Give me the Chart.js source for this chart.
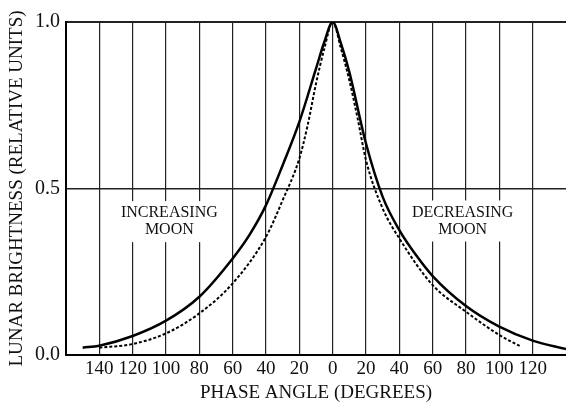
<!DOCTYPE html>
<html>
<head>
<meta charset="utf-8">
<title>Lunar brightness vs phase angle</title>
<script src="https://cdn.jsdelivr.net/npm/chart.js@4.4.1/dist/chart.umd.min.js"></script>
<style>
	html, body { margin: 0; padding: 0; background: #fff; }
	#wrap { width: 566px; height: 406px; }
</style>
</head>
<body>
<div id="wrap"><canvas id="lunar-chart"></canvas></div>
<script>
// Phase angle in degrees: negative side = increasing moon, positive = decreasing moon
var solidAngles = [-150, -140, -120, -100, -80, -60, -50, -40, -30, -20, -10, -5, 0, 5, 10, 20, 30, 40, 50, 60, 80, 100, 120, 140];
var solidBrightness = [0.022, 0.028, 0.057, 0.103, 0.175, 0.29, 0.36, 0.45, 0.57, 0.70, 0.86, 0.94, 1.0, 0.935, 0.85, 0.635, 0.475, 0.375, 0.30, 0.237, 0.147, 0.085, 0.043, 0.018];

var dottedAngles = [-140, -120, -100, -80, -60, -40, -30, -20, -15, -10, -5, 0, 5, 10, 15, 20, 30, 40, 60, 80, 100, 113];
var dottedBrightness = [0.022, 0.033, 0.065, 0.125, 0.215, 0.355, 0.465, 0.59, 0.69, 0.815, 0.92, 1.0, 0.92, 0.825, 0.71, 0.585, 0.44, 0.35, 0.21, 0.13, 0.06, 0.025];

var angleTicks = [-140, -120, -100, -80, -60, -40, -20, 0, 20, 40, 60, 80, 100, 120];
var brightnessTicks = [0, 0.5, 1];

// Boxed notes: position of the first text line (angle, brightness)
var noteAngles = [-98, 78];
var noteLevels = [0.426, 0.428];
var noteLines = [['INCREASING', 'MOON'], ['DECREASING', 'MOON']];

var SERIF = '"Liberation Serif", "Times New Roman", serif';

function toPoints(xs, ys) {
	return xs.map(function(x, i) { return { x: x, y: ys[i] }; });
}

// White boxed labels drawn over the grid
var notesPlugin = {
	id: 'moonNotes',
	beforeDatasetsDraw: function(chart) {
		var ctx = chart.ctx;
		var xs = chart.scales.x, ys = chart.scales.y;
		var lineGap = 17;
		ctx.save();
		ctx.font = '16px ' + SERIF;
		ctx.textAlign = 'center';
		ctx.textBaseline = 'middle';
		noteLines.forEach(function(lines, i) {
			var cx = xs.getPixelForValue(noteAngles[i]);
			var cy = ys.getPixelForValue(noteLevels[i]);
			var w = 0;
			lines.forEach(function(t) { w = Math.max(w, ctx.measureText(t).width); });
			var top = cy - 12;
			var h = lineGap * (lines.length - 1) + 24;
			ctx.fillStyle = '#fff';
			ctx.fillRect(cx - w / 2 - 4, top, w + 8, h);
			ctx.fillStyle = '#111';
			lines.forEach(function(t, j) {
				ctx.fillText(t, cx, cy + j * lineGap);
			});
		});
		ctx.restore();
	}
};

var chartCtx = document.getElementById('lunar-chart');
new Chart(chartCtx, {
	type: 'line',
	data: {
		datasets: [{
			data: toPoints(solidAngles, solidBrightness),
			borderColor: '#000',
			borderWidth: 2.5,
			pointRadius: 0,
			cubicInterpolationMode: 'monotone',
			fill: false
		}, {
			data: toPoints(dottedAngles, dottedBrightness),
			borderColor: '#000',
			borderWidth: 2,
			borderDash: [3, 2],
			pointRadius: 0,
			cubicInterpolationMode: 'monotone',
			fill: false
		}]
	},
	options: {
		responsive: true,
		maintainAspectRatio: false,
		animation: false,
		layout: {
			padding: { top: 22, right: 0, bottom: 0, left: 0 }
		},
		plugins: {
			legend: { display: false },
			tooltip: { enabled: false }
		},
		scales: {
			x: {
				type: 'linear',
				min: -160,
				max: 140,
				afterBuildTicks: function(scale) {
					scale.ticks = angleTicks.map(function(v) { return { value: v }; });
				},
				afterFit: function(scale) { scale.height = 51; },
				ticks: {
					color: '#111',
					padding: 3,
					maxRotation: 0,
					font: { family: SERIF, size: 19 },
					callback: function(value) { return String(Math.abs(value)); }
				},
				grid: {
					color: '#222',
					lineWidth: 1.2,
					drawTicks: false
				},
				border: { color: '#000', width: 2 },
				title: {
					display: true,
					text: 'PHASE ANGLE (DEGREES)',
					color: '#111',
					padding: { top: 0, bottom: 2 },
					font: { family: SERIF, size: 19 }
				}
			},
			y: {
				min: 0,
				max: 1,
				afterBuildTicks: function(scale) {
					scale.ticks = brightnessTicks.map(function(v) { return { value: v }; });
				},
				afterFit: function(scale) { scale.width = 66; },
				ticks: {
					color: '#111',
					padding: 6,
					font: { family: SERIF, size: 20 },
					callback: function(value) { return value.toFixed(1); }
				},
				grid: {
					color: '#222',
					lineWidth: function(c) { return c.tick && c.tick.value === 1 ? 2 : 1.4; },
					drawTicks: false
				},
				border: { color: '#000', width: 2 },
				title: {
					display: true,
					text: 'LUNAR BRIGHTNESS (RELATIVE UNITS)',
					color: '#111',
					padding: { top: 6, bottom: 0 },
					font: { family: SERIF, size: 19 }
				}
			}
		}
	},
	plugins: [notesPlugin]
});
</script>
</body>
</html>
